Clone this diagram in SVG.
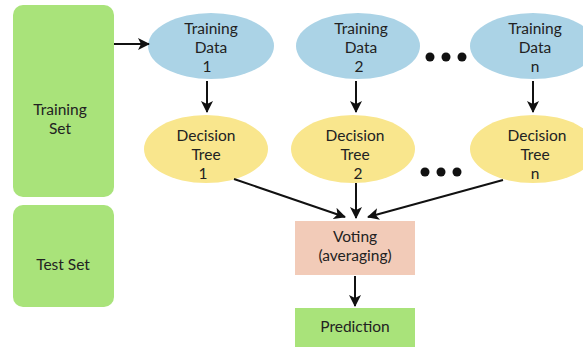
<svg xmlns="http://www.w3.org/2000/svg" width="583" height="348" viewBox="0 0 583 348">
<defs>
<style>
text{font-family:Lato,"Open Sans","Liberation Sans",sans-serif;font-size:15.5px;fill:#222;text-anchor:middle}
.g{fill:#a9e37a}
.b{fill:#abd3e6}
.y{fill:#f9e68d}
.s{fill:#f2cbb8}
.c line{stroke:#111;stroke-width:2;marker-end:url(#ah)}
.d{fill:#111}
</style>
<marker id="ah" viewBox="0 0 12 12" refX="11" refY="6" markerWidth="12" markerHeight="12" markerUnits="userSpaceOnUse" orient="auto">
<path d="M0,0 L12,6 L0,12 L3,6 Z" fill="#111"/>
</marker>
</defs>
<rect width="583" height="348" fill="#fff"/>
<g id="training-set"><rect class="g" x="13" y="5" width="101" height="192" rx="10"/><text x="60" y="115">Training</text><text x="60" y="134">Set</text></g>
<g id="test-set"><rect class="g" x="13" y="205" width="101" height="102" rx="10"/><text x="63" y="270">Test Set</text></g>
<g id="td1"><ellipse class="b" cx="211" cy="46" rx="63" ry="33"/><text x="211" y="34">Training</text><text x="211" y="53">Data</text><text x="207" y="72">1</text></g>
<g id="td2"><ellipse class="b" cx="358" cy="46" rx="62" ry="33"/><text x="361" y="34">Training</text><text x="361" y="53">Data</text><text x="359" y="72">2</text></g>
<g id="tdn"><ellipse class="b" cx="533" cy="46" rx="63" ry="33"/><text x="535" y="34">Training</text><text x="535" y="53">Data</text><text x="535" y="72">n</text></g>
<g id="dt1"><ellipse class="y" cx="206" cy="149" rx="62" ry="34"/><text x="206" y="141">Decision</text><text x="206" y="160">Tree</text><text x="203" y="179">1</text></g>
<g id="dt2"><ellipse class="y" cx="353" cy="149" rx="62" ry="34"/><text x="355" y="141">Decision</text><text x="355" y="160">Tree</text><text x="358" y="179">2</text></g>
<g id="dtn"><ellipse class="y" cx="533" cy="149" rx="63" ry="34"/><text x="537" y="141">Decision</text><text x="535" y="160">Tree</text><text x="535" y="179">n</text></g>
<g id="dots1"><circle class="d" cx="430" cy="57" r="4.5"/><circle class="d" cx="446" cy="57" r="4.5"/><circle class="d" cx="462" cy="57" r="4.5"/></g>
<g id="dots2"><circle class="d" cx="425" cy="172" r="4.5"/><circle class="d" cx="441" cy="172" r="4.5"/><circle class="d" cx="457" cy="172" r="4.5"/></g>
<g id="voting"><rect class="s" x="295" y="221" width="120" height="54"/><text x="355" y="242">Voting</text><text x="355" y="261">(averaging)</text></g>
<g id="prediction"><rect class="g" x="295" y="308" width="120" height="39"/><text x="355" y="332">Prediction</text></g>
<g class="c" id="connectors">
<line x1="114" y1="44" x2="149" y2="44"/>
<line x1="207" y1="81" x2="207" y2="112"/>
<line x1="356" y1="81" x2="356" y2="112"/>
<line x1="533" y1="81" x2="533" y2="112"/>
<line x1="234" y1="179" x2="345" y2="217"/>
<line x1="356" y1="183" x2="356" y2="218"/>
<line x1="503" y1="180" x2="368" y2="217"/>
<line x1="355" y1="276" x2="355" y2="306"/>
</g>
</svg>
